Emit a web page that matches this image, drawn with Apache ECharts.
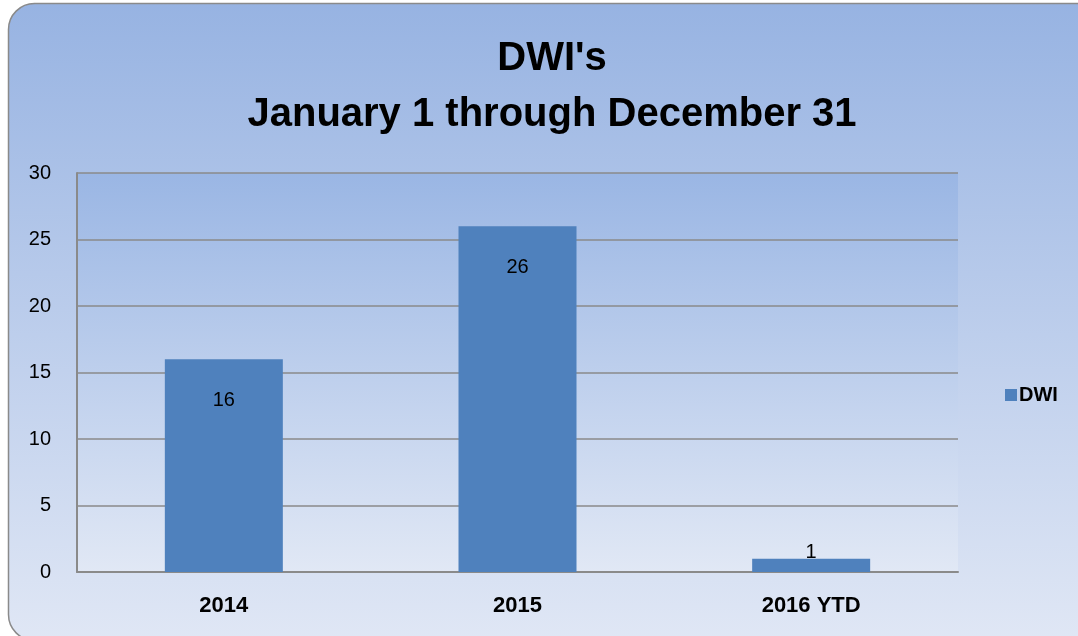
<!DOCTYPE html>
<html>
<head>
<meta charset="utf-8">
<script src="https://cdn.jsdelivr.net/npm/echarts@6/dist/echarts.min.js"></script>
<style>
  html, body { margin: 0; padding: 0; background: #fff; }
</style>
</head>
<body>
<div id="main" style="width: 1078px; height: 636px"></div>
<script>
var categories = ["2014", "2015", "2016 YTD"];
var dwiValues = [16, 26, 1];
var yTicks = [0, 5, 10, 15, 20, 25, 30];

var myChart = echarts.init(document.getElementById("main"));

var font = "Liberation Sans, Arial, sans-serif";

// small bars get their label on top, like the original
var barData = dwiValues.map(function (v) {
  if (v < 3) {
    return { value: v, label: { position: "top", distance: -4 } };
  }
  return v;
});

var option = {
  backgroundColor: "#fff",
  graphic: [{
    type: "rect",
    z: -10,
    silent: true,
    shape: { x: 8.5, y: 3.5, width: 1100, height: 637, r: 26 },
    style: {
      fill: new echarts.graphic.LinearGradient(0, 0, 0, 1, [
        { offset: 0, color: "#97b3e2" },
        { offset: 1, color: "#e0e7f5" }
      ]),
      stroke: "#8a8a8a",
      lineWidth: 1.5
    }
  }],
  title: {
    text: "DWI's\nJanuary 1 through December 31",
    left: 547,
    top: 26,
    textAlign: "center",
    textStyle: {
      fontFamily: font,
      fontWeight: "bold",
      fontSize: 40,
      lineHeight: 56,
      color: "#000"
    }
  },
  legend: {
    data: ["DWI"],
    orient: "vertical",
    left: 1000,
    top: 380,
    itemWidth: 12,
    itemHeight: 12,
    itemGap: 5,
    icon: "rect",
    textStyle: {
      fontFamily: font,
      fontWeight: "bold",
      fontSize: 20,
      color: "#000",
      padding: [0, 0, 0, -3]
    }
  },
  grid: {
    left: 77,
    right: 120,
    top: 173,
    bottom: 64,
    show: true,
    borderWidth: 0,
    backgroundColor: new echarts.graphic.LinearGradient(0, 0, 0, 1, [
      { offset: 0, color: "#9ab6e4" },
      { offset: 1, color: "#e1e8f5" }
    ])
  },
  xAxis: {
    type: "category",
    data: categories,
    axisLine: { show: true, lineStyle: { color: "#8a8a8a", width: 2 } },
    axisTick: { show: false },
    axisLabel: {
      margin: 23,
      fontFamily: font,
      fontWeight: "bold",
      fontSize: 22,
      color: "#000"
    }
  },
  yAxis: {
    type: "value",
    min: yTicks[0],
    max: yTicks[yTicks.length - 1],
    interval: 5,
    axisLine: { show: true, lineStyle: { color: "#8a8a8a", width: 2 } },
    axisTick: { show: false },
    splitLine: { lineStyle: { color: "#8a8a8a", width: 1.5 } },
    axisLabel: {
      margin: 26,
      fontFamily: font,
      fontSize: 20,
      color: "#000"
    }
  },
  series: [{
    name: "DWI",
    type: "bar",
    data: barData,
    barWidth: 118,
    itemStyle: { color: "#4f81bd" },
    label: {
      show: true,
      position: "insideTop",
      distance: 31,
      fontFamily: font,
      fontSize: 20,
      color: "#000"
    }
  }]
};

option && myChart.setOption(option);
</script>
</body>
</html>
